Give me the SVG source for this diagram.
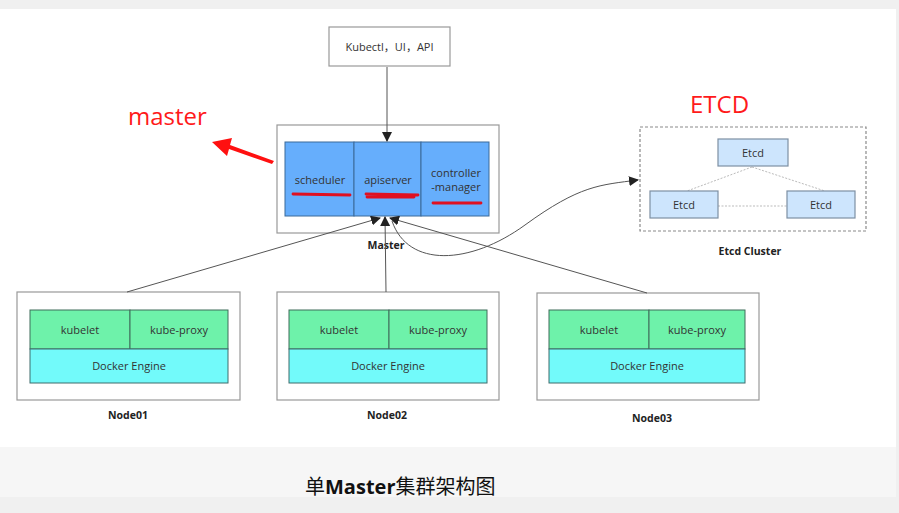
<svg xmlns="http://www.w3.org/2000/svg" width="899" height="513" viewBox="0 0 899 513">
<defs>
<style>
text{font-family:"Open Sans","Noto Sans","Noto Sans CJK SC",sans-serif;fill:#333;}
.t{font-size:11px;text-anchor:middle;}
.b{font-size:10.5px;font-weight:bold;text-anchor:middle;fill:#222;}
.outer{fill:#fff;stroke:#999;stroke-width:1.2;}
.blue{fill:#66aefc;stroke:#3b6a9a;stroke-width:1;}
.green{fill:#6ef2aa;stroke:#3f6c5a;stroke-width:1;}
.cyan{fill:#72fafa;stroke:#3f6c6c;stroke-width:1;}
.etcd{fill:#cde5fd;stroke:#7d8fa3;stroke-width:1.2;}
.con{fill:none;stroke:#555;stroke-width:1;}
.red{fill:#ff1a1a;font-size:24px;}
.ul{stroke:#e01020;stroke-width:2.8;fill:none;stroke-linecap:round;}
</style>
<marker id="ah" viewBox="0 0 10 10" refX="9" refY="5" markerWidth="10" markerHeight="10" orient="auto" markerUnits="userSpaceOnUse">
<path d="M0,0 L10,5 L0,10 z" fill="#222"/>
</marker>
</defs>
<rect x="0" y="0" width="899" height="513" fill="#f0f0f0"/>
<rect x="0" y="9" width="896" height="438" fill="#ffffff"/>
<rect x="0" y="447" width="896" height="50" fill="#f6f6f6"/>

<g id="client">
<rect class="outer" x="329" y="27" width="121" height="39"/>
<text class="t" x="389.5" y="51">Kubectl，UI，API</text>
</g>

<g id="master">
<rect class="outer" x="277" y="125" width="222" height="108"/>
<rect class="blue" x="285" y="142" width="69" height="74"/>
<rect class="blue" x="354" y="142" width="67" height="74"/>
<rect class="blue" x="421" y="142" width="68" height="74"/>
<text class="t" x="320" y="184">scheduler</text>
<text class="t" x="388" y="184">apiserver</text>
<text class="t" x="456" y="177">controller</text>
<text class="t" x="456" y="191">-manager</text>
<path class="ul" d="M293,194 L350,195"/>
<path class="ul" d="M366,194 L418,195 M367,197 L414,197"/>
<path class="ul" d="M433,203 L481,203"/>
<text class="b" x="386" y="249">Master</text>
</g>

<g id="annotations">
<text class="red" x="128" y="125">master</text>
<path d="M274,161 L272,164 L229,149 L227,156 L212,142 L232,138 L230,145 Z" fill="#ff1010"/>
<text class="red" x="690" y="113">ETCD</text>
</g>

<g id="etcd-cluster">
<rect x="640" y="127" width="226" height="104" fill="none" stroke="#8a8a8a" stroke-width="1.2" stroke-dasharray="3,2"/>
<path d="M752,167 L687,191 M752,167 L825,191 M718,206 L787,206" stroke="#bbb" stroke-width="1" stroke-dasharray="2,1.5" fill="none"/>
<g id="etcd1"><rect class="etcd" x="718" y="139" width="70" height="27"/><text class="t" x="753" y="157">Etcd</text></g>
<g id="etcd2"><rect class="etcd" x="650" y="191" width="68" height="27"/><text class="t" x="684" y="209">Etcd</text></g>
<g id="etcd3"><rect class="etcd" x="787" y="191" width="68" height="27"/><text class="t" x="821" y="209">Etcd</text></g>
<text class="b" x="750" y="255">Etcd Cluster</text>
</g>

<g id="node01">
<rect class="outer" x="17" y="292" width="223" height="108"/>
<rect class="green" x="30" y="310" width="100" height="39"/>
<rect class="green" x="130" y="310" width="98" height="39"/>
<rect class="cyan" x="30" y="349" width="198" height="34"/>
<text class="t" x="80" y="334">kubelet</text>
<text class="t" x="179" y="334">kube-proxy</text>
<text class="t" x="129" y="370">Docker Engine</text>
<text class="b" x="128" y="419">Node01</text>
</g>

<g id="node02">
<rect class="outer" x="277" y="292" width="222" height="108"/>
<rect class="green" x="289" y="310" width="100" height="39"/>
<rect class="green" x="389" y="310" width="98" height="39"/>
<rect class="cyan" x="289" y="349" width="198" height="34"/>
<text class="t" x="339" y="334">kubelet</text>
<text class="t" x="438" y="334">kube-proxy</text>
<text class="t" x="388" y="370">Docker Engine</text>
<text class="b" x="387" y="419">Node02</text>
</g>

<g id="node03">
<rect class="outer" x="537" y="293" width="222" height="107"/>
<rect class="green" x="549" y="310" width="100" height="39"/>
<rect class="green" x="649" y="310" width="96" height="39"/>
<rect class="cyan" x="549" y="349" width="196" height="34"/>
<text class="t" x="599" y="334">kubelet</text>
<text class="t" x="697" y="334">kube-proxy</text>
<text class="t" x="647" y="370">Docker Engine</text>
<text class="b" x="652" y="422">Node03</text>
</g>

<g id="connectors">
<path class="con" d="M387,67 L387,141" marker-end="url(#ah)"/>
<path class="con" d="M127,292 L380,218" marker-end="url(#ah)"/>
<path class="con" d="M386,292 L385,217" marker-end="url(#ah)"/>
<path class="con" d="M647,293 L390,218" marker-end="url(#ah)"/>
<path class="con" d="M392,221 C408,268 470,265 525,225 S600,185 638,180" marker-end="url(#ah)"/>
</g>

<text x="305" y="494" font-size="20" style="font-family:'Noto Sans CJK SC','Noto Sans',sans-serif;fill:#111;">单<tspan font-weight="bold" style="font-family:'Open Sans','Noto Sans',sans-serif;">Master</tspan>集群架构图</text>
</svg>
